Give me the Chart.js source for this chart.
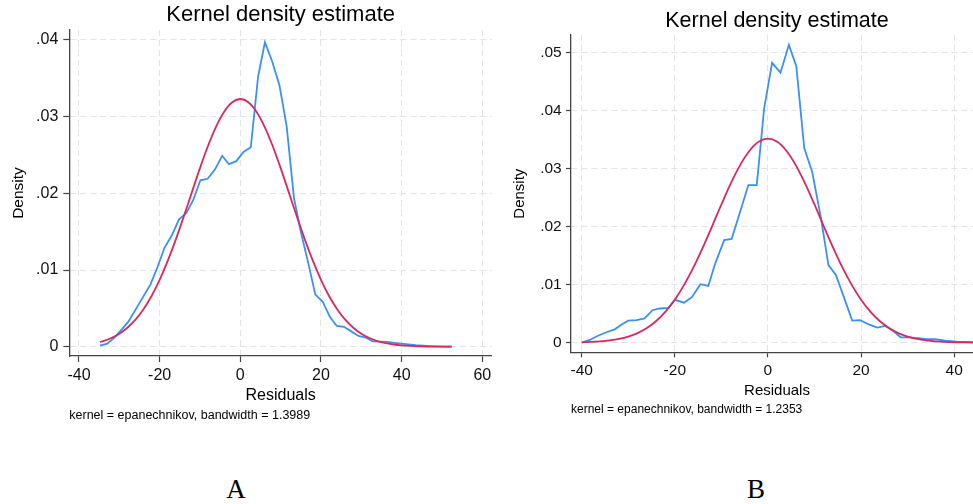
<!DOCTYPE html>
<html>
<head>
<meta charset="utf-8">
<script src="https://cdn.jsdelivr.net/npm/chart.js@4.4.1/dist/chart.umd.min.js"></script>
<style>
  html, body { margin: 0; padding: 0; background: #fff; overflow: hidden; }
  body { width: 973px; height: 504px; position: relative; }
  canvas { position: absolute; top: 0; }
  #chartA { left: 0; }
  #chartB { left: 490px; }
  .panel-label {
    position: absolute; top: 472px; width: 40px; text-align: center;
    font-family: "Liberation Serif", "Times New Roman", serif;
    font-size: 27px; line-height: 34px; color: #000;
  }
</style>
</head>
<body>
<canvas id="chartA" width="492" height="430"></canvas>
<canvas id="chartB" width="493" height="430"></canvas>
<div class="panel-label" style="left:216px">A</div>
<div class="panel-label" style="left:736px">B</div>
<script>
// Panel A: kernel density of residuals + normal density
const kdeXA = [-34.8, -33.0, -31.2, -29.5, -27.7, -25.9, -24.1, -22.3, -20.6, -18.8,
  -17.0, -15.2, -13.4, -11.7, -9.9, -8.1, -6.3, -4.5, -2.8, -1.0,
  0.8, 2.6, 4.4, 6.1, 7.9, 9.7, 11.5, 13.3, 15.0, 16.8,
  18.6, 20.4, 22.2, 23.9, 25.7, 27.5, 29.3, 31.1, 32.8, 34.6,
  36.4, 38.2, 40.0, 41.7, 43.5, 45.3, 47.1, 48.9, 50.6, 52.4];
const kdeYA = [0.00013, 0.0004, 0.0012, 0.0022, 0.0033, 0.0049, 0.0065, 0.0081, 0.0103, 0.0129,
  0.0145, 0.0166, 0.0174, 0.0191, 0.0217, 0.0219, 0.0231, 0.0249, 0.0238, 0.0242,
  0.0254, 0.0260, 0.0352, 0.0397, 0.0372, 0.0341, 0.0287, 0.0194, 0.0150, 0.0110,
  0.0068, 0.0059, 0.0039, 0.0027, 0.0026, 0.0020, 0.0014, 0.0012, 0.0007, 0.00066,
  0.00062, 0.0005, 0.0004, 0.0003, 0.0002, 0.00013, 0.00008, 0.00005, 0.00002, 0.00001];
const normXA = [-34.8, -34, -32, -30, -28, -26, -24, -22, -20, -18, -16, -14, -12, -10, -8, -6, -4, -2,
  0, 2, 4, 6, 8, 10, 12, 14, 16, 18, 20, 22, 24, 26, 28, 30, 32, 34, 36, 38, 40,
  42, 44, 46, 48, 50, 52, 52.4];
const normYA = [0.00061, 0.00073, 0.00113, 0.0017, 0.00248, 0.00353, 0.0049, 0.00662, 0.00872,
  0.01119, 0.01397, 0.01701, 0.02016, 0.02329, 0.0262, 0.02871, 0.03065, 0.03188,
  0.0323, 0.03188, 0.03065, 0.02871, 0.0262, 0.02329, 0.02016, 0.01701, 0.01397,
  0.01119, 0.00872, 0.00662, 0.0049, 0.00353, 0.00248, 0.0017, 0.00113, 0.00073,
  0.00046, 0.00029, 0.00017, 0.0001, 0.000057, 0.000032, 0.000017, 0.000009, 0.000005, 0.000004];
const xTicksA = [-40, -20, 0, 20, 40, 60];
const xTickLabelsA = ['-40', '-20', '0', '20', '40', '60'];
const yTicksA = [0, 0.01, 0.02, 0.03, 0.04];
const yTickLabelsA = ['0', '.01', '.02', '.03', '.04'];

// Panel B
const kdeXB = [-40.0, -38.3, -36.5, -34.7, -32.9, -31.5, -30.0, -28.2, -26.5, -24.8,
  -23.2, -21.4, -20.0, -18.0, -16.3, -14.5, -12.8, -11.4, -9.4, -7.8,
  -6.0, -4.2, -2.4, -0.8, 0.9, 2.7, 4.5, 6.1, 7.8, 9.5,
  11.4, 13.0, 14.6, 16.3, 18.1, 19.8, 21.8, 23.5, 25.2, 26.8,
  28.5, 30.5, 32.3, 34.1, 35.9, 38.1, 40.6, 42.5, 44.5, 46.2];
const kdeYB = [0.0, 0.00047, 0.0012, 0.0018, 0.0023, 0.0031, 0.0038, 0.0039, 0.0042, 0.0056,
  0.0059, 0.0060, 0.0074, 0.0069, 0.0079, 0.0101, 0.0098, 0.0135, 0.0177, 0.0179,
  0.0225, 0.0272, 0.0272, 0.0405, 0.0483, 0.0466, 0.0514, 0.0477, 0.0336, 0.0295,
  0.0215, 0.0134, 0.0117, 0.0079, 0.0038, 0.0039, 0.0031, 0.0026, 0.0029, 0.0021,
  0.00093, 0.00093, 0.0008, 0.00059, 0.00059, 0.00035, 0.00017, 0.00012, 0.00008, 0.00005];
const normXB = [-40, -38, -36, -34, -32, -30, -28, -26, -24, -22, -20, -18, -16, -14, -12, -10, -8, -6, -4, -2,
  0, 2, 4, 6, 8, 10, 12, 14, 16, 18, 20, 22, 24, 26, 28, 30, 32, 34, 36, 38, 40, 42, 44, 46];
const normYB = [0.00007, 0.00013, 0.00023, 0.00039, 0.00065, 0.00106, 0.00166, 0.00253, 0.00374,
  0.00535, 0.00741, 0.00997, 0.01299, 0.01641, 0.02009, 0.02385, 0.02744, 0.0306, 0.03307, 0.03466,
  0.0352, 0.03466, 0.03307, 0.0306, 0.02744, 0.02385, 0.02009, 0.01641, 0.01299, 0.00997,
  0.00741, 0.00535, 0.00374, 0.00253, 0.00166, 0.00106, 0.00065, 0.00039, 0.00023, 0.00013,
  0.00007, 0.000037, 0.000019, 0.000009];
const xTicksB = [-40, -20, 0, 20, 40];
const xTickLabelsB = ['-40', '-20', '0', '20', '40'];
const yTicksB = [0, 0.01, 0.02, 0.03, 0.04, 0.05];
const yTickLabelsB = ['0', '.01', '.02', '.03', '.04', '.05'];

const FONT = '"Liberation Sans", Arial, Helvetica, sans-serif';
const KDE_BLUE = '#3a90f5';
const NORM_RED = '#d62a5f';
const AXIS = '#444';
const GRID = '#e4e4e4';

function toPoints(xs, ys) {
  return xs.map((x, i) => ({ x: x, y: ys[i] }));
}

// s = sizes / layout numbers for one panel
function drawKdensity(id, d, s) {
  const ctx = document.getElementById(id).getContext('2d');
  return new Chart(ctx, {
    type: 'line',
    data: {
      datasets: [
        {
          data: toPoints(d.kx, d.ky),
          borderColor: KDE_BLUE, borderWidth: 1.8, pointRadius: 0,
          tension: 0, order: 1
        },
        {
          data: toPoints(d.nx, d.ny),
          borderColor: NORM_RED, borderWidth: 1.8, pointRadius: 0,
          cubicInterpolationMode: 'monotone', order: 0
        }
      ]
    },
    options: {
      responsive: false,
      animation: false,
      events: [],
      layout: { padding: { left: 0, right: 0, top: 0, bottom: s.padBottom } },
      plugins: {
        legend: { display: false },
        tooltip: { enabled: false },
        title: {
          display: true, text: 'Kernel density estimate', fullSize: false,
          color: '#000', font: { family: FONT, size: s.titleSize, weight: 'normal' },
          padding: { top: s.titleTop, bottom: s.titleBottom }
        },
        subtitle: {
          display: true, position: 'bottom', align: 'start', fullSize: false,
          text: d.note, color: '#000',
          font: { family: FONT, size: s.noteSize, weight: 'normal' },
          padding: { top: s.noteTop, bottom: 0 }
        }
      },
      scales: {
        x: {
          type: 'linear', min: s.xMin, max: s.xMax,
          afterBuildTicks: sc => { sc.ticks = d.xTicks.map(v => ({ value: v })); },
          afterFit: sc => { sc.height = s.xAxisH; sc.paddingLeft = 0; sc.paddingRight = 0; },
          ticks: {
            autoSkip: false, maxRotation: 0, padding: s.xTickPad, color: '#111',
            font: { family: FONT, size: s.tickSize },
            callback: (v, i) => d.xLabels[i]
          },
          grid: { color: GRID, lineWidth: 1, tickLength: s.tickLen, tickColor: AXIS, tickWidth: 1.2 },
          border: { display: true, color: AXIS, width: 1.3, dash: [6, 4] },
          title: {
            display: true, text: 'Residuals', color: '#000',
            font: { family: FONT, size: s.xTitleSize }, padding: { top: 0, bottom: 0 }
          }
        },
        y: {
          type: 'linear', min: s.yMin, max: s.yMax,
          afterBuildTicks: sc => { sc.ticks = d.yTicks.map(v => ({ value: v })); },
          afterFit: sc => { sc.width = s.yAxisW; sc.paddingTop = 0; sc.paddingBottom = 0; },
          ticks: {
            padding: s.yTickPad, color: '#111',
            font: { family: FONT, size: s.tickSize },
            callback: (v, i) => d.yLabels[i]
          },
          grid: { color: GRID, lineWidth: 1, tickLength: s.tickLen, tickColor: AXIS, tickWidth: 1.2 },
          border: { display: true, color: AXIS, width: 1.3, dash: [6, 4] },
          title: {
            display: true, text: 'Density', color: '#000',
            font: { family: FONT, size: s.yTitleSize }, padding: { top: s.yTitlePad, bottom: 0 }
          }
        }
      }
    }
  });
}

drawKdensity('chartA', {
  kx: kdeXA, ky: kdeYA, nx: normXA, ny: normYA,
  xTicks: xTicksA, xLabels: xTickLabelsA, yTicks: yTicksA, yLabels: yTickLabelsA,
  note: 'kernel = epanechnikov, bandwidth = 1.3989'
}, {
  xMin: -42.4, xMax: 62.4, yMin: -0.00121, yMax: 0.0413,
  titleSize: 22, titleTop: 1.8, titleBottom: 1.8,
  tickSize: 16, tickLen: 6, xTickPad: 4, yTickPad: 5,
  xTitleSize: 16, yTitleSize: 15.5, yTitlePad: 9.2,
  xAxisH: 49.6, yAxisW: 69.3,
  noteSize: 12.5, noteTop: 2.9, padBottom: 6.5
});

drawKdensity('chartB', {
  kx: kdeXB, ky: kdeYB, nx: normXB, ny: normYB,
  xTicks: xTicksB, xLabels: xTickLabelsB, yTicks: yTicksB, yLabels: yTickLabelsB,
  note: 'kernel = epanechnikov, bandwidth = 1.2353'
}, {
  xMin: -42.3, xMax: 46.2, yMin: -0.00166, yMax: 0.0531,
  titleSize: 21.5, titleTop: 7.9, titleBottom: 1.3,
  tickSize: 15.5, tickLen: 5, xTickPad: 4.4, yTickPad: 4.3,
  xTitleSize: 15, yTitleSize: 15, yTitlePad: 21,
  xAxisH: 47.4, yAxisW: 81,
  noteSize: 12, noteTop: 3.1, padBottom: 12.8
});
</script>
</body>
</html>
